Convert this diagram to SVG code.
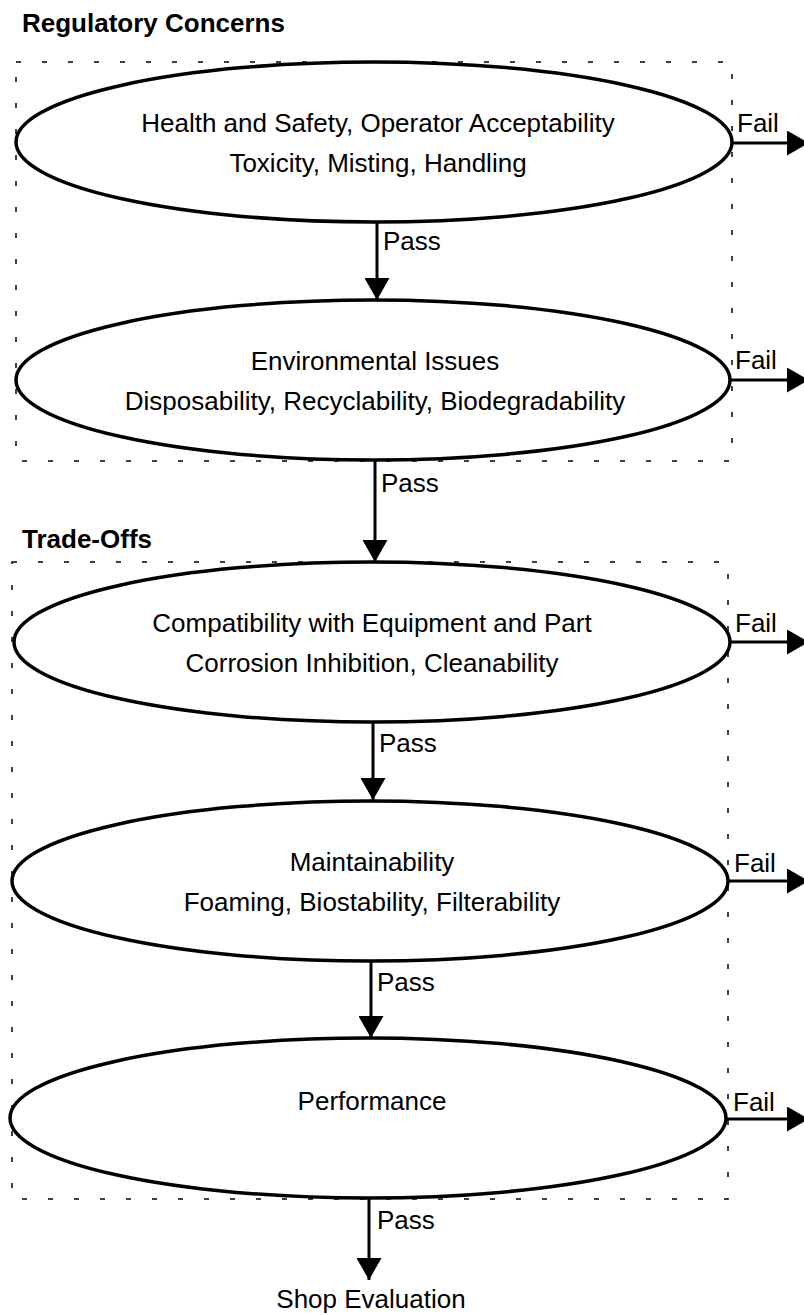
<svg xmlns="http://www.w3.org/2000/svg" width="804" height="1315" viewBox="0 0 804 1315">
<style>
.bg{fill:#ffffff}
.box{fill:none;stroke:#000;stroke-width:1.5;stroke-dasharray:5 21}
.node{fill:#ffffff;stroke:#000;stroke-width:3.5}
.edge{stroke:#000;stroke-width:3;fill:none}
.t{font-family:"Liberation Sans",Arial,sans-serif;font-size:26px;fill:#000}
.c{text-anchor:middle}
.h{font-family:"Liberation Sans",Arial,sans-serif;font-size:26px;font-weight:bold;fill:#000}
</style>
<defs>
<marker id="ah" markerUnits="userSpaceOnUse" markerWidth="22" markerHeight="25" refX="22" refY="12.5" orient="auto" viewBox="0 0 22 25">
<path d="M0,0 L22,12.5 L0,25 Z" fill="#000"/>
</marker>
</defs>
<rect class="bg" x="0" y="0" width="804" height="1315"/>
<g id="groups">
<rect class="box" x="16" y="62" width="716" height="399"/>
<text class="h" x="22" y="32">Regulatory Concerns</text>
<rect class="box" x="12" y="562" width="716" height="637"/>
<text class="h" x="22" y="548">Trade-Offs</text>
</g>
<g id="n1">
<ellipse class="node" cx="374" cy="142" rx="358" ry="80"/>
<text class="t c" x="378" y="132">Health and Safety, Operator Acceptability</text>
<text class="t c" x="378" y="172">Toxicity, Misting, Handling</text>
</g>
<g id="n2">
<ellipse class="node" cx="373" cy="380" rx="357" ry="80"/>
<text class="t c" x="375" y="370">Environmental Issues</text>
<text class="t c" x="375" y="410">Disposability, Recyclability, Biodegradability</text>
</g>
<g id="n3">
<ellipse class="node" cx="372" cy="642" rx="358" ry="80"/>
<text class="t c" x="372" y="632">Compatibility with Equipment and Part</text>
<text class="t c" x="372" y="672">Corrosion Inhibition, Cleanability</text>
</g>
<g id="n4">
<ellipse class="node" cx="370" cy="881" rx="358" ry="80"/>
<text class="t c" x="372" y="871">Maintainability</text>
<text class="t c" x="372" y="911">Foaming, Biostability, Filterability</text>
</g>
<g id="n5">
<ellipse class="node" cx="368" cy="1118" rx="358" ry="80"/>
<text class="t c" x="372" y="1110">Performance</text>
</g>
<g id="n6">
<text class="t c" x="371" y="1308">Shop Evaluation</text>
</g>
<g id="connectors">
<line class="edge" x1="377" y1="222" x2="377" y2="300" marker-end="url(#ah)"/>
<text class="t" x="383" y="250">Pass</text>
<line class="edge" x1="375" y1="460" x2="375" y2="562" marker-end="url(#ah)"/>
<text class="t" x="381" y="492">Pass</text>
<line class="edge" x1="373" y1="722" x2="373" y2="800" marker-end="url(#ah)"/>
<text class="t" x="379" y="752">Pass</text>
<line class="edge" x1="371" y1="961" x2="371" y2="1038" marker-end="url(#ah)"/>
<text class="t" x="377" y="991">Pass</text>
<line class="edge" x1="369" y1="1198" x2="369" y2="1280" marker-end="url(#ah)"/>
<text class="t" x="377" y="1229">Pass</text>
<line class="edge" x1="732" y1="143" x2="809" y2="143" marker-end="url(#ah)"/>
<text class="t" x="737" y="132">Fail</text>
<line class="edge" x1="730" y1="380" x2="809" y2="380" marker-end="url(#ah)"/>
<text class="t" x="735" y="369">Fail</text>
<line class="edge" x1="730" y1="642" x2="809" y2="642" marker-end="url(#ah)"/>
<text class="t" x="735" y="632">Fail</text>
<line class="edge" x1="728" y1="881" x2="809" y2="881" marker-end="url(#ah)"/>
<text class="t" x="734" y="872">Fail</text>
<line class="edge" x1="726" y1="1119" x2="809" y2="1119" marker-end="url(#ah)"/>
<text class="t" x="733" y="1111">Fail</text>
</g>
</svg>
